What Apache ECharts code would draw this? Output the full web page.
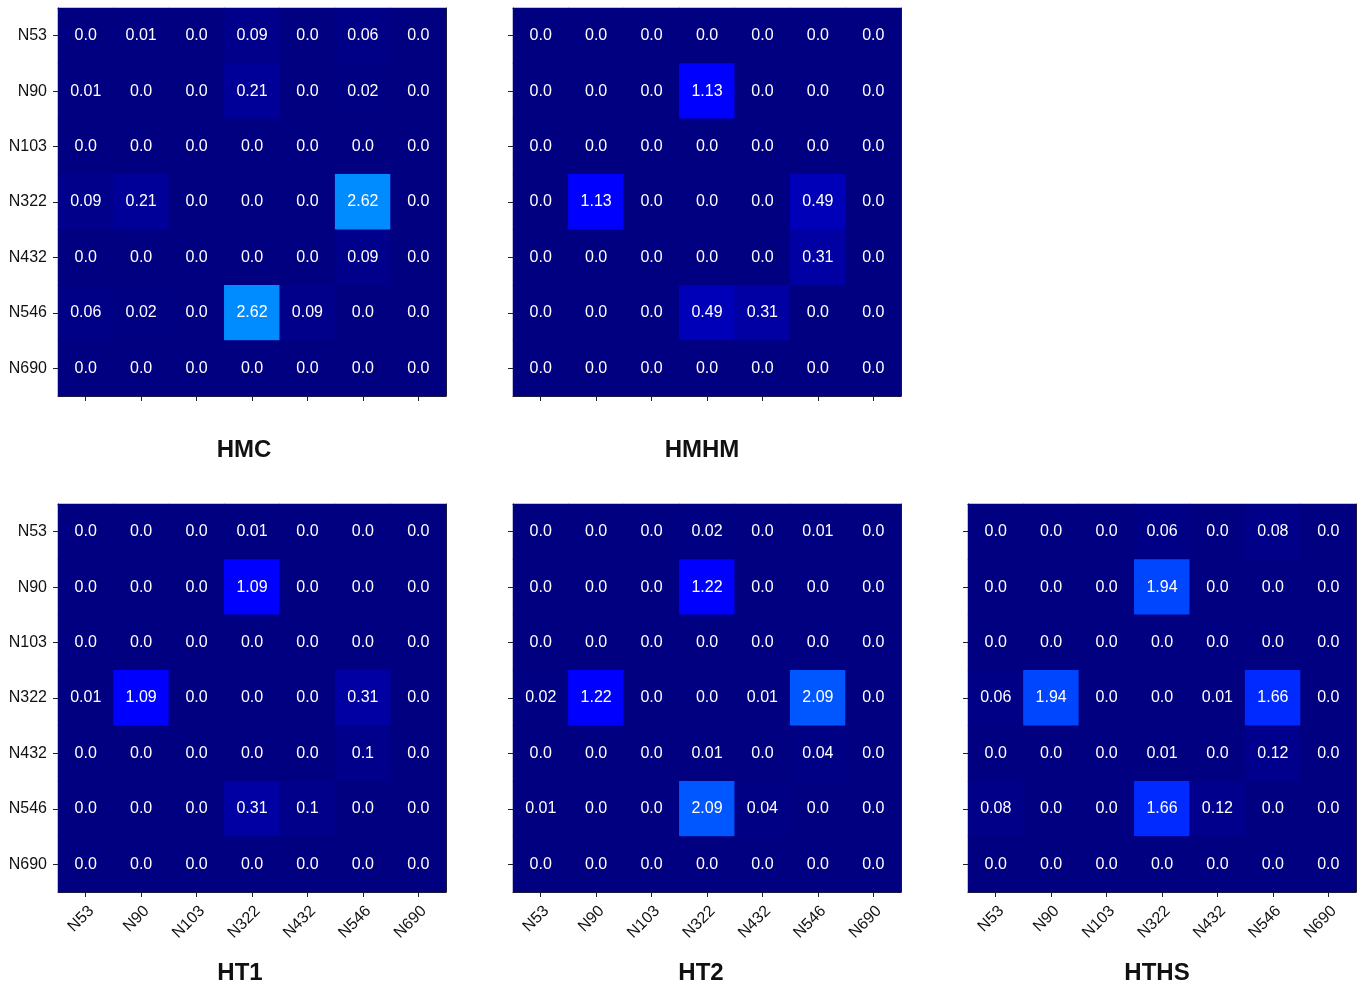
<!DOCTYPE html>
<html>
<head>
<meta charset="utf-8">
<script src="https://cdn.jsdelivr.net/npm/echarts@6/dist/echarts.min.js"></script>
<style>
html,body{margin:0;padding:0;background:#fff;}
#chart{width:1363px;height:985px;}
</style>
</head>
<body>
<div id="chart"></div>
<script>
const categories = ['N53','N90','N103','N322','N432','N546','N690'];
const panelTitles = ['HMC','HMHM','HT1','HT2','HTHS'];

const HMC = [
  [0.0,0.01,0.0,0.09,0.0,0.06,0.0],
  [0.01,0.0,0.0,0.21,0.0,0.02,0.0],
  [0.0,0.0,0.0,0.0,0.0,0.0,0.0],
  [0.09,0.21,0.0,0.0,0.0,2.62,0.0],
  [0.0,0.0,0.0,0.0,0.0,0.09,0.0],
  [0.06,0.02,0.0,2.62,0.09,0.0,0.0],
  [0.0,0.0,0.0,0.0,0.0,0.0,0.0]
];
const HMHM = [
  [0.0,0.0,0.0,0.0,0.0,0.0,0.0],
  [0.0,0.0,0.0,1.13,0.0,0.0,0.0],
  [0.0,0.0,0.0,0.0,0.0,0.0,0.0],
  [0.0,1.13,0.0,0.0,0.0,0.49,0.0],
  [0.0,0.0,0.0,0.0,0.0,0.31,0.0],
  [0.0,0.0,0.0,0.49,0.31,0.0,0.0],
  [0.0,0.0,0.0,0.0,0.0,0.0,0.0]
];
const HT1 = [
  [0.0,0.0,0.0,0.01,0.0,0.0,0.0],
  [0.0,0.0,0.0,1.09,0.0,0.0,0.0],
  [0.0,0.0,0.0,0.0,0.0,0.0,0.0],
  [0.01,1.09,0.0,0.0,0.0,0.31,0.0],
  [0.0,0.0,0.0,0.0,0.0,0.1,0.0],
  [0.0,0.0,0.0,0.31,0.1,0.0,0.0],
  [0.0,0.0,0.0,0.0,0.0,0.0,0.0]
];
const HT2 = [
  [0.0,0.0,0.0,0.02,0.0,0.01,0.0],
  [0.0,0.0,0.0,1.22,0.0,0.0,0.0],
  [0.0,0.0,0.0,0.0,0.0,0.0,0.0],
  [0.02,1.22,0.0,0.0,0.01,2.09,0.0],
  [0.0,0.0,0.0,0.01,0.0,0.04,0.0],
  [0.01,0.0,0.0,2.09,0.04,0.0,0.0],
  [0.0,0.0,0.0,0.0,0.0,0.0,0.0]
];
const HTHS = [
  [0.0,0.0,0.0,0.06,0.0,0.08,0.0],
  [0.0,0.0,0.0,1.94,0.0,0.0,0.0],
  [0.0,0.0,0.0,0.0,0.0,0.0,0.0],
  [0.06,1.94,0.0,0.0,0.01,1.66,0.0],
  [0.0,0.0,0.0,0.01,0.0,0.12,0.0],
  [0.08,0.0,0.0,1.66,0.12,0.0,0.0],
  [0.0,0.0,0.0,0.0,0.0,0.0,0.0]
];
const matrices = [HMC, HMHM, HT1, HT2, HTHS];
const colorMin = 0, colorMax = 10;

// matplotlib "jet" colormap
function seg(pts, t){
  for (let i=0;i<pts.length-1;i++){
    const [x0,y0]=pts[i],[x1,y1]=pts[i+1];
    if (t>=x0 && t<=x1) return y0+(y1-y0)*(t-x0)/(x1-x0);
  }
  return pts[pts.length-1][1];
}
function jet(t){
  const r=seg([[0,0],[0.35,0],[0.66,1],[0.89,1],[1,0.5]],t);
  const g=seg([[0,0],[0.125,0],[0.375,1],[0.64,1],[0.91,0],[1,0]],t);
  const b=seg([[0,0.5],[0.11,1],[0.34,1],[0.65,0],[1,0]],t);
  const h=v=>Math.round(v*255);
  return `rgb(${h(r)},${h(g)},${h(b)})`;
}
const jetColors=[];
for(let i=0;i<=200;i++) jetColors.push(jet(i/200));

const FONT = 'Arial, "Liberation Sans", sans-serif';
const layout = [
  {left:58, top:8, showX:false, showY:true, titleX:244, titleY:438},
  {left:513, top:8, showX:false, showY:false, titleX:702, titleY:438},
  {left:58, top:504, showX:true, showY:true, titleX:240, titleY:961},
  {left:513, top:504, showX:true, showY:false, titleX:701, titleY:961},
  {left:968, top:504, showX:true, showY:false, titleX:1157, titleY:961}
];
const SIZE = 388;

const grids=[], xAxes=[], yAxes=[], series=[], titles=[];
layout.forEach((L,i)=>{
  grids.push({left:L.left, top:L.top, width:SIZE, height:SIZE, show:true,
    backgroundColor:jet(0), borderWidth:0});
  xAxes.push({
    type:'category', data:categories, gridIndex:i, position:'bottom',
    axisLine:{show:true, lineStyle:{color:'#222', width:1}},
    axisTick:{show:true, alignWithLabel:true, length:5, lineStyle:{color:'#222'}},
    axisLabel:{show:L.showX, rotate:45, fontSize:16, color:'#111', fontFamily:FONT,
      margin:11, interval:0, verticalAlign:'top'},
    splitLine:{show:false}
  });
  xAxes.push({
    type:'category', data:categories, gridIndex:i, position:'top',
    axisLine:{show:true, lineStyle:{color:'#222', width:1}},
    axisTick:{show:false}, axisLabel:{show:false}, splitLine:{show:false}
  });
  yAxes.push({
    type:'category', data:categories, gridIndex:i, inverse:true, position:'left',
    axisLine:{show:true, lineStyle:{color:'#222', width:1}},
    axisTick:{show:true, alignWithLabel:true, length:5, lineStyle:{color:'#222'}},
    axisLabel:{show:L.showY, fontSize:16, color:'#111', fontFamily:FONT, margin:11, interval:0},
    splitLine:{show:false}
  });
  yAxes.push({
    type:'category', data:categories, gridIndex:i, inverse:true, position:'right',
    axisLine:{show:true, lineStyle:{color:'#222', width:1}},
    axisTick:{show:false}, axisLabel:{show:false}, splitLine:{show:false}
  });
  const data=[];
  matrices[i].forEach((row,r)=>row.forEach((v,c)=>data.push([c,r,v])));
  series.push({
    type:'heatmap', xAxisIndex:2*i, yAxisIndex:2*i, data:data,
    label:{show:true, color:'#fff', fontSize:16, fontFamily:FONT,
      formatter:p=>{const v=p.value[2]; return Number.isInteger(v)? v.toFixed(1): String(v);}},
    emphasis:{disabled:true}, itemStyle:{borderWidth:0}
  });
  titles.push({text:panelTitles[i], left:L.titleX, top:L.titleY, textAlign:'center', padding:0,
    textStyle:{fontSize:24, fontWeight:'bold', color:'#111', fontFamily:FONT}});
});

const chart = echarts.init(document.getElementById('chart'), null, {renderer:'canvas'});
chart.setOption({
  backgroundColor:'#fff',
  animation:false,
  title:titles,
  grid:grids,
  xAxis:xAxes,
  yAxis:yAxes,
  visualMap:{show:false, type:'continuous', min:colorMin, max:colorMax, dimension:2, inRange:{color:jetColors}},
  series:series
});
</script>
</body>
</html>
